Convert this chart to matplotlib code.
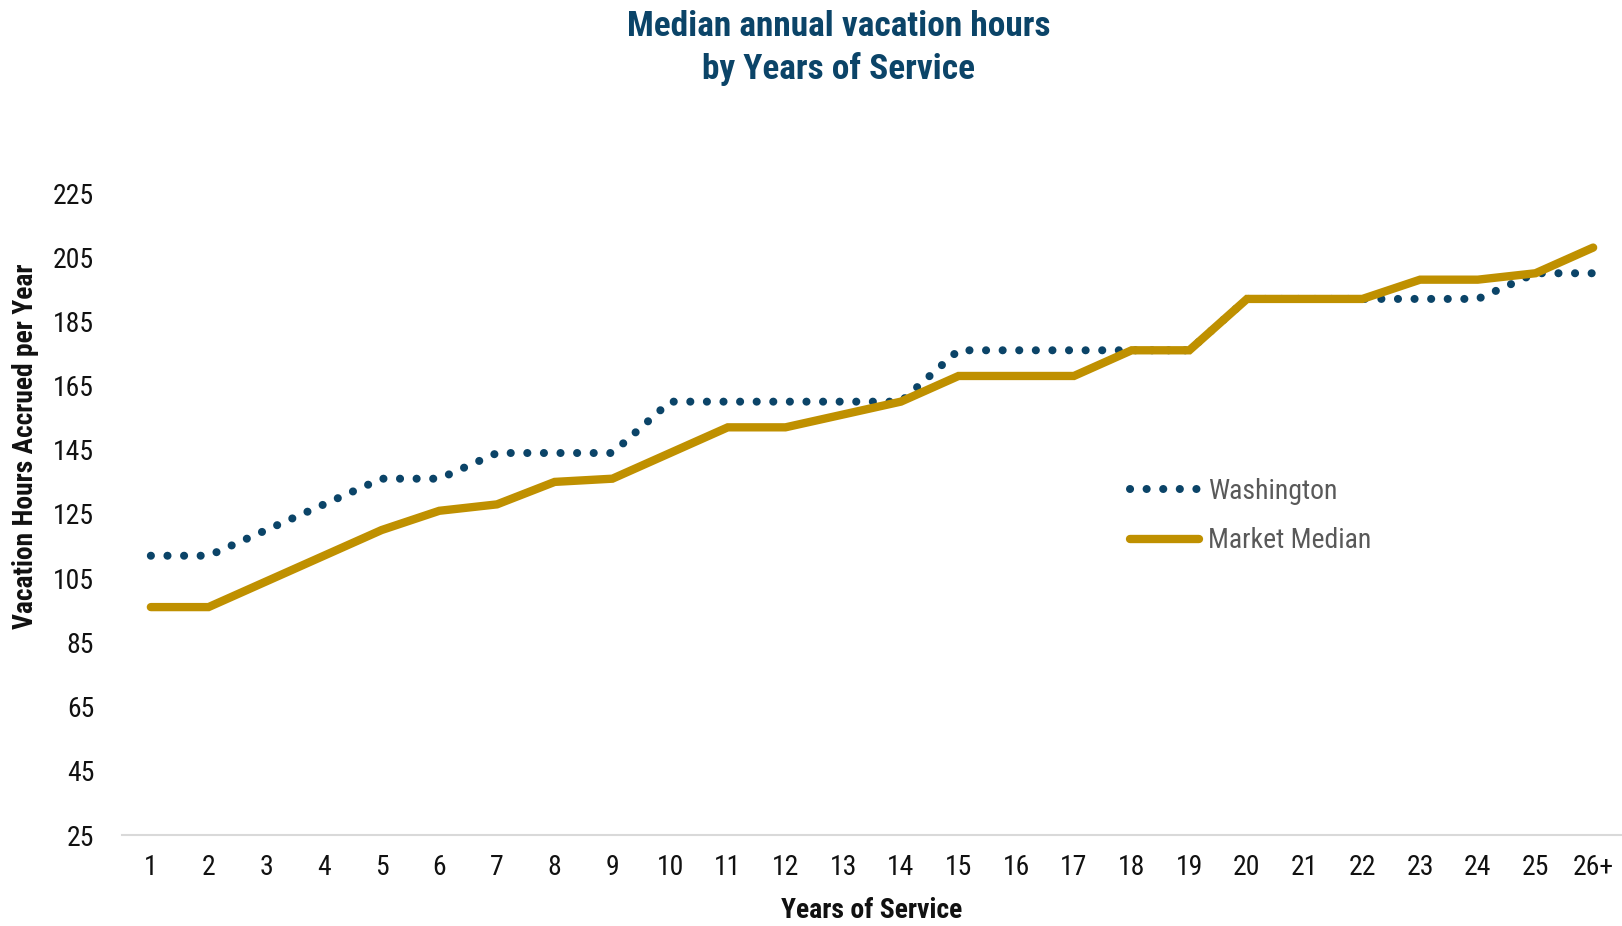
import matplotlib
matplotlib.use("Agg")
import matplotlib.pyplot as plt
from matplotlib import font_manager

years = ['1', '2', '3', '4', '5', '6', '7', '8', '9', '10', '11', '12', '13',
         '14', '15', '16', '17', '18', '19', '20', '21', '22', '23', '24', '25', '26+']
washington = [112, 112, 120, 128, 136, 136, 144, 144, 144, 160, 160, 160, 160,
              160, 176, 176, 176, 176, 176, 192, 192, 192, 192, 192, 200, 200]
market_median = [96, 96, 104, 112, 120, 126, 128, 135, 136, 144, 152, 152, 156,
                 160, 168, 168, 168, 176, 176, 192, 192, 192, 198, 198, 200, 208]
yticks = [25, 45, 65, 85, 105, 125, 145, 165, 185, 205, 225]

def pick(names):
    for n in names:
        try:
            font_manager.findfont(font_manager.FontProperties(family=n), fallback_to_default=False)
            return n
        except Exception:
            pass
    return 'DejaVu Sans'

fam = pick(['Liberation Sans Narrow', 'Arial Narrow', 'Roboto Condensed', 'Liberation Sans'])
plt.rcParams['font.family'] = [fam, 'DejaVu Sans']

NAVY = '#0B4468'
GOLD = '#BF9000'

fig = plt.figure(figsize=(16.22, 9.26), dpi=100)
ax = fig.add_axes([122/1622, 1-835/926, 1-122/1622, (835-193)/926])

x = list(range(len(years)))
ax.plot(x, washington, color=NAVY, lw=5.8, linestyle=(0, (0.01, 2.05)),
        dash_capstyle='round', label='Washington', zorder=2, solid_capstyle='round')
ax.plot(x, market_median, color=GOLD, lw=6, solid_capstyle='round',
        solid_joinstyle='miter', label='Market Median', zorder=3)

ax.set_xlim(-0.5, len(years) - 0.5)
ax.set_ylim(25, 225)
ax.set_yticks(yticks)
ax.set_xticks(x)
ax.set_xticklabels(years)
ax.tick_params(axis='both', length=0, labelsize=20, colors='#111111')
ax.tick_params(axis='x', pad=14)
ax.tick_params(axis='y', pad=20)
for s in ['top', 'right', 'left']:
    ax.spines[s].set_visible(False)
ax.spines['bottom'].set_color('#D9D9D9')
ax.spines['bottom'].set_linewidth(1.5)

fig.text(839/1622, 1-26/926, 'Median annual vacation hours', ha='center', va='center',
         fontsize=25.5, fontweight='bold', color=NAVY)
fig.text(839/1622, 1-69/926, 'by Years of Service', ha='center', va='center',
         fontsize=25.5, fontweight='bold', color=NAVY)
fig.text(26/1622, 1-446/926, 'Vacation Hours Accrued per Year', rotation=90,
         ha='center', va='center', fontsize=19.8, fontweight='bold', color='#111111')
fig.text(872/1622, 1-911/926, 'Years of Service', ha='center', va='center',
         fontsize=20, fontweight='bold', color='#111111')

leg = ax.legend(loc='center left', bbox_to_anchor=(1130/1622, 1-516/926),
                bbox_transform=fig.transFigure, frameon=False, fontsize=20,
                handlelength=2.5, handletextpad=0.3, labelspacing=0.82,
                borderpad=0, borderaxespad=0)
for t in leg.get_texts():
    t.set_color('#595959')

fig.savefig('out.png', dpi=100)
